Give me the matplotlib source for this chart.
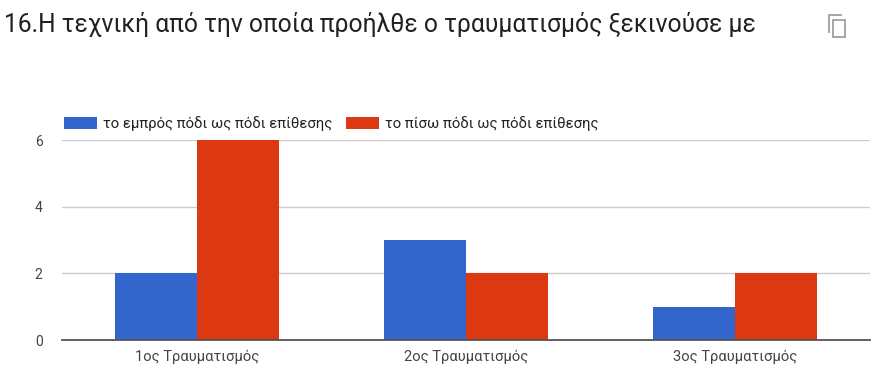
import numpy as np
import matplotlib.pyplot as plt
from matplotlib.patches import Rectangle

# Δεδομένα
categories = ["1ος Τραυματισμός", "2ος Τραυματισμός", "3ος Τραυματισμός"]
front_foot = [2, 3, 1]
back_foot = [6, 2, 2]
series_names = ["το εμπρός πόδι ως πόδι επίθεσης", "το πίσω πόδι ως πόδι επίθεσης"]
title = "16.Η τεχνική από την οποία προήλθε ο τραυματισμός ξεκινούσε με"

plt.rcParams['font.family'] = ['Roboto', 'DejaVu Sans']

fig = plt.figure(figsize=(8.77, 3.88), dpi=100)
W, H = 877, 388
ax = fig.add_axes([62 / W, 1 - 340 / H, 808 / W, 200 / H])

x = np.arange(len(categories))
bw = 0.305
ax.bar(x - bw / 2, front_foot, bw, color='#3366cc', label=series_names[0], zorder=3)
ax.bar(x + bw / 2, back_foot, bw, color='#dc3912', label=series_names[1], zorder=3)

ax.set_xlim(-0.5, len(categories) - 0.5)
ax.set_ylim(0, 6)
ax.set_yticks([0, 2, 4, 6])
ax.set_xticks(x)
ax.set_xticklabels(categories)
ax.tick_params(length=0, colors='#444444')
ax.tick_params(axis='y', pad=14, labelsize=10)
ax.tick_params(axis='x', pad=7, labelsize=10.6)
ax.grid(axis='y', color='#cccccc', linewidth=1, zorder=0)
for s in ['top', 'right', 'left']:
    ax.spines[s].set_visible(False)
ax.spines['bottom'].set_color('#555555')
ax.spines['bottom'].set_linewidth(1.3)
ax.spines['bottom'].set_zorder(4)

# Υπόμνημα
leg = fig.legend(loc='upper left', bbox_to_anchor=(58 / W, 1 - 110 / H), ncol=2,
                 frameon=False, fontsize=10.7, handlelength=2.2, handleheight=0.9,
                 columnspacing=0.95, handletextpad=0.4, borderaxespad=0)
for t in leg.get_texts():
    t.set_color('#222222')

fig.text(4 / W, 1 - 24 / H, title, fontsize=17.7, color='#212121', va='center', ha='left')

# Εικονίδιο αντιγραφής
fig.patches.append(Rectangle((833 / W, 1 - 37 / H), 12 / W, 17 / H, transform=fig.transFigure,
                             fill=False, edgecolor='#9e9e9e', linewidth=1.3))
fig.lines.append(plt.Line2D([829 / W, 829 / W, 841 / W], [1 - 32 / H, 1 - 15 / H, 1 - 15 / H],
                            transform=fig.transFigure, color='#9e9e9e', linewidth=1.3))

fig.savefig('out.png', dpi=100)
